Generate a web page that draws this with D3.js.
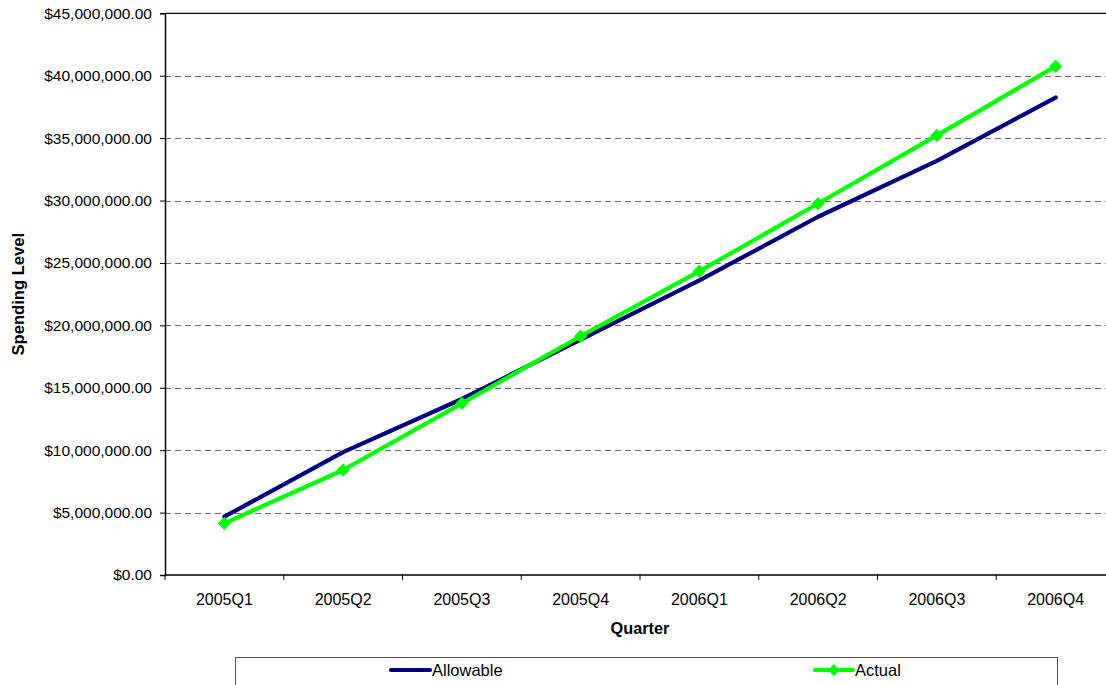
<!DOCTYPE html>
<html>
<head>
<meta charset="utf-8">
<script src="https://cdn.jsdelivr.net/npm/d3@7"></script>
<style>
  html, body { margin: 0; padding: 0; background: #fff; }
  svg { display: block; font-family: Arial, "Liberation Sans", sans-serif; }
</style>
</head>
<body>
<svg id="chart" width="1106" height="685"></svg>
<script>
// Quarterly spending, allowable vs. actual (US dollars)
const quarters = ["2005Q1", "2005Q2", "2005Q3", "2005Q4", "2006Q1", "2006Q2", "2006Q3", "2006Q4"];
const allowable = [4670000, 9850000, 14100000, 18850000, 23600000, 28700000, 33170000, 38250000];
const actual = [4140000, 8410000, 13750000, 19130000, 24340000, 29760000, 35220000, 40750000];
const yTicks = [0, 5000000, 10000000, 15000000, 20000000, 25000000, 30000000, 35000000, 40000000, 45000000];

const series = [
  { name: "Allowable", values: allowable, color: "#000080", marker: false },
  { name: "Actual", values: actual, color: "#00FF00", marker: true }
];

const svg = d3.select("#chart");
const plot = { left: 165, right: 1115, top: 13.3, bottom: 575 };

const x = d3.scaleBand().domain(quarters).range([plot.left, plot.right]).padding(0);
const y = d3.scaleLinear().domain([0, 45000000]).range([plot.bottom, plot.top]);
const xc = q => x(q) + x.bandwidth() / 2;
const money = v => "$" + d3.format(",.2f")(v);

// horizontal gridlines
svg.append("g")
  .selectAll("line")
  .data(yTicks.filter(v => v > 0 && v < 45000000))
  .join("line")
  .attr("x1", plot.left).attr("x2", plot.right)
  .attr("y1", d => Math.round(y(d)) + 0.5).attr("y2", d => Math.round(y(d)) + 0.5)
  .attr("stroke", "#6e6e6e").attr("stroke-width", 1)
  .attr("stroke-dasharray", "6,4");

// plot area top border
svg.append("line")
  .attr("x1", plot.left).attr("x2", plot.right)
  .attr("y1", y(45000000)).attr("y2", y(45000000))
  .attr("stroke", "#000").attr("stroke-width", 1.2);

// y axis
const yAxis = d3.axisLeft(y).tickValues(yTicks).tickFormat(money).tickSize(5).tickPadding(8);
const gy = svg.append("g").attr("transform", `translate(${plot.left},0)`).call(yAxis);
gy.select(".domain").attr("stroke", "#000").attr("stroke-width", 1.5);
gy.selectAll(".tick line").attr("stroke", "#000");
gy.selectAll(".tick text")
  .attr("font-size", "15.5px").attr("fill", "#000")
  .attr("font-family", "Arial, 'Liberation Sans', sans-serif");

// x axis: ticks at the category boundaries
const gx = svg.append("g").attr("transform", `translate(0,${plot.bottom})`);
gx.append("line")
  .attr("x1", plot.left).attr("x2", plot.right)
  .attr("stroke", "#000").attr("stroke-width", 1.5);
gx.selectAll("line.tk")
  .data(quarters.map(q => x(q)).concat([plot.right]))
  .join("line").attr("class", "tk")
  .attr("x1", d => d).attr("x2", d => d)
  .attr("y1", 0).attr("y2", 5)
  .attr("stroke", "#000");
gx.selectAll("text")
  .data(quarters)
  .join("text")
  .attr("x", d => xc(d)).attr("y", 30)
  .attr("text-anchor", "middle")
  .attr("font-size", "16px")
  .text(d => d);

// axis titles
svg.append("text")
  .attr("x", (plot.left + plot.right) / 2).attr("y", 634)
  .attr("text-anchor", "middle")
  .attr("font-size", "16.3px").attr("font-weight", "bold")
  .text("Quarter");
svg.append("text")
  .attr("transform", `translate(23.5,${(plot.top + plot.bottom) / 2}) rotate(-90)`)
  .attr("text-anchor", "middle")
  .attr("font-size", "16.6px").attr("font-weight", "bold")
  .text("Spending Level");

// series lines and markers
const line = d3.line().x((d, i) => xc(quarters[i])).y(d => y(d));
const diamond = d3.symbol().type(d3.symbolSquare).size(70);

series.forEach(s => {
  svg.append("path")
    .datum(s.values)
    .attr("d", line)
    .attr("fill", "none")
    .attr("stroke", s.color)
    .attr("stroke-width", 4.2)
    .attr("stroke-linejoin", "round")
    .attr("stroke-linecap", "round");
  if (s.marker) {
    svg.append("g").selectAll("path")
      .data(s.values)
      .join("path")
      .attr("d", diamond)
      .attr("transform", (d, i) => `translate(${xc(quarters[i])},${y(d)}) rotate(45)`)
      .attr("fill", s.color)
      .attr("stroke", s.color)
      .attr("stroke-width", 1);
  }
});

// legend
const legend = svg.append("g");
legend.append("rect")
  .attr("x", 235.5).attr("y", 657.5)
  .attr("width", 822).attr("height", 40)
  .attr("fill", "#fff").attr("stroke", "#555").attr("stroke-width", 1);
const legendItems = [
  { s: series[0], x0: 391, x1: 430 },
  { s: series[1], x0: 815, x1: 853 }
];
legendItems.forEach(it => {
  legend.append("line")
    .attr("x1", it.x0).attr("x2", it.x1)
    .attr("y1", 670).attr("y2", 670)
    .attr("stroke", it.s.color).attr("stroke-width", 4.2)
    .attr("stroke-linecap", "round");
  if (it.s.marker) {
    legend.append("path")
      .attr("d", diamond)
      .attr("transform", `translate(${(it.x0 + it.x1) / 2},670) rotate(45)`)
      .attr("fill", it.s.color);
  }
  legend.append("text")
    .attr("x", it.x1 + 2).attr("y", 676)
    .attr("font-size", "16.5px")
    .text(it.s.name);
});
</script>
</body>
</html>
